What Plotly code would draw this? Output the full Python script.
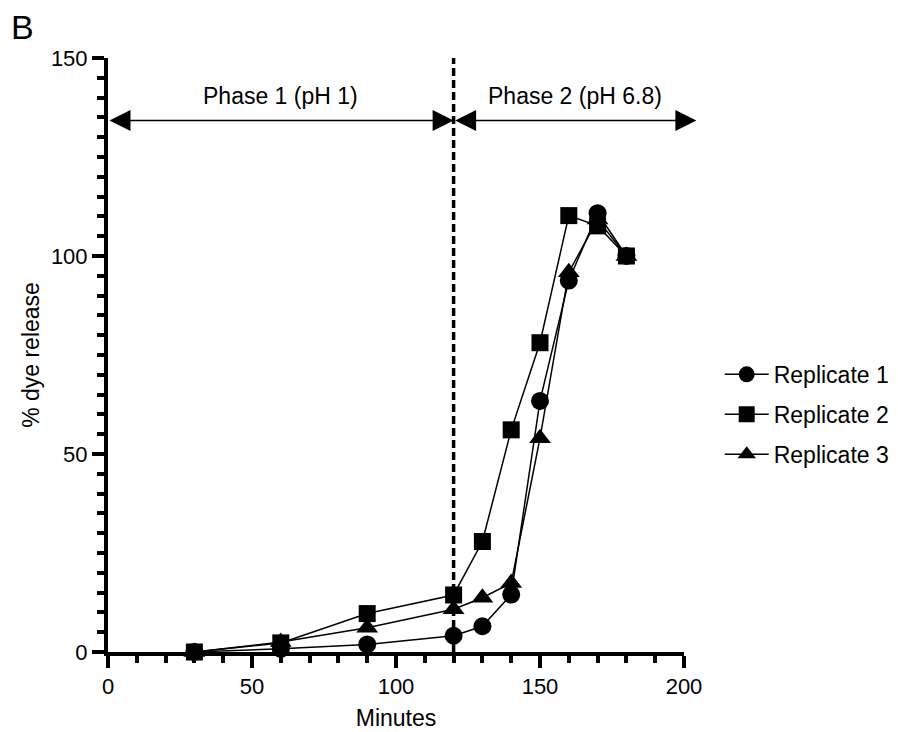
import plotly.graph_objects as go

# ---- data ----
minutes = [30, 60, 90, 120, 130, 140, 150, 160, 170, 180]
rep1 = [0, 0.8, 1.9, 4.1, 6.5, 14.5, 63.4, 93.8, 110.8, 100]
rep2 = [0, 2.3, 9.7, 14.4, 27.9, 56.1, 78.1, 110.2, 107.6, 100]
rep3 = [0, 2.5, 6.1, 10.8, 13.7, 17.4, 54.0, 95.9, 109.2, 100]
series_names = ["Replicate 1", "Replicate 2", "Replicate 3"]
x_ticks = [0, 50, 100, 150, 200]
y_ticks = [0, 50, 100, 150]
phase_boundary = 120
phase_labels = ["Phase 1 (pH 1)", "Phase 2 (pH 6.8)"]
phase_starts = [0, 120]
phase_ends = [120, 204.3]
arrow_level = 134.2

FONT = "Liberation Sans, Arial, Helvetica, sans-serif"

fig = go.Figure()
symbols = ["circle", "square", "triangle-up"]
sizes = [18, 17, 19]
for name, vals, sym, sz in zip(series_names, [rep1, rep2, rep3], symbols, sizes):
    fig.add_trace(go.Scatter(
        x=minutes, y=vals, mode="lines+markers", name=name, legendgroup=name,
        line=dict(color="black", width=1.5),
        marker=dict(symbol=sym, size=sz, color="black", line=dict(width=0)),
        cliponaxis=False,
    ))

# dashed phase boundary
fig.add_shape(type="line", xref="x", yref="y", x0=phase_boundary, x1=phase_boundary,
              y0=0, y1=153, line=dict(color="black", width=3.5, dash="8px,4px"), layer="below")

# phase arrows and labels
for lab, s, e in zip(phase_labels, phase_starts, phase_ends):
    fig.add_annotation(x=e, y=arrow_level, ax=s, ay=arrow_level, xref="x", yref="y",
                       axref="x", ayref="y", text="", showarrow=True,
                       arrowhead=2, startarrowhead=2, arrowside="end+start",
                       arrowsize=2.8, startarrowsize=2.8, arrowwidth=1.5, arrowcolor="black")
    fig.add_annotation(x=(s + e) / 2, y=140.3, xref="x", yref="y", text=lab, showarrow=False,
                       xanchor="center", yanchor="middle", font=dict(size=23, color="black", family=FONT))

# panel letter
fig.add_annotation(x=-0.172, y=1.052, xref="paper", yref="paper", text="B", showarrow=False,
                   xanchor="left", yanchor="middle", font=dict(size=34, color="black", family=FONT))

axis_common = dict(showline=True, linewidth=4, linecolor="black", ticks="outside", ticklen=12,
                   tickwidth=4, tickcolor="black", showgrid=False, zeroline=False, automargin=False,
                   tickfont=dict(size=22, color="black", family=FONT), tickmode="array")

fig.update_layout(
    width=898, height=732,
    margin=dict(l=108, r=214, t=58, b=80, autoexpand=False),
    paper_bgcolor="white", plot_bgcolor="white",
    font=dict(family=FONT, color="black"),
    xaxis=dict(range=[0, 200], tickvals=x_ticks, ticktext=[str(v) for v in x_ticks],
               minor=dict(dtick=10, tick0=0, ticks="outside", ticklen=7, tickwidth=4, tickcolor="black"),
               title=dict(text="Minutes", font=dict(size=23, color="black", family=FONT), standoff=12),
               **axis_common),
    yaxis=dict(range=[0, 150], tickvals=y_ticks, ticktext=[str(v) for v in y_ticks],
               minor=dict(dtick=5, tick0=0, ticks="outside", ticklen=7, tickwidth=4, tickcolor="black"),
               title=dict(text="% dye release", font=dict(size=23, color="black", family=FONT), standoff=6),
               **axis_common),
    showlegend=True,
    legend=dict(x=1.062, y=0.40, xanchor="left", yanchor="middle", tracegroupgap=7,
                font=dict(size=23, color="black", family=FONT), itemwidth=44,
                bgcolor="rgba(0,0,0,0)"),
)

fig.write_html("out.html", config={"displayModeBar": False},
               post_script="document.body.style.margin='0';document.body.style.overflow='hidden';")
